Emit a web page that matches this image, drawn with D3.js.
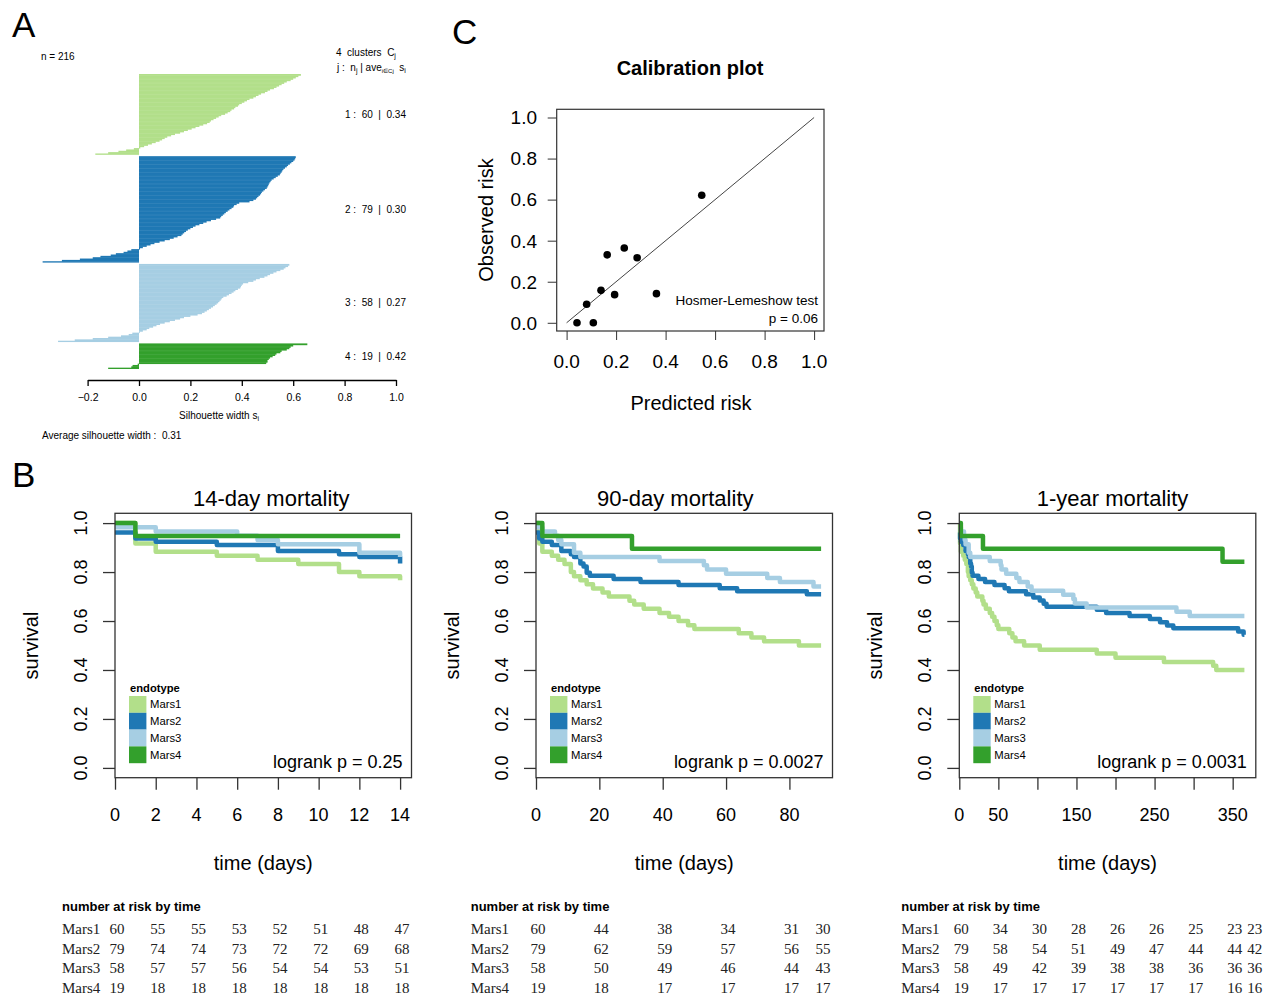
<!DOCTYPE html>
<html>
<head>
<meta charset="utf-8">
<script src="https://cdn.jsdelivr.net/npm/d3@7"></script>
<style>
body { margin: 0; background: #fff; }
text { font-family: "Liberation Sans", Arial, sans-serif; fill: #000; }
.serif { font-family: "Liberation Serif", "Times New Roman", serif; fill: #222; }
.pre { white-space: pre; }
</style>
</head>
<body>
<script>
// ---------- shared ----------
const endotypes = ['Mars1', 'Mars2', 'Mars3', 'Mars4'];
const endoColors = ['#b2df8a', '#1f78b4', '#a6cee3', '#33a02c'];

// ---------- panel A : silhouette widths, sorted inside each cluster ----------
const silC1 = [0.63, 0.62, 0.61, 0.60, 0.59, 0.575, 0.565, 0.555, 0.545, 0.535,
  0.525, 0.51, 0.50, 0.49, 0.475, 0.465, 0.455, 0.445, 0.43, 0.42,
  0.41, 0.40, 0.39, 0.385, 0.375, 0.37, 0.36, 0.355, 0.345, 0.335,
  0.32, 0.31, 0.30, 0.29, 0.28, 0.275, 0.265, 0.25, 0.235, 0.22,
  0.205, 0.19, 0.175, 0.16, 0.14, 0.125, 0.11, 0.10, 0.09, 0.08,
  0.065, 0.05, 0.035, 0.02, 0.005, -0.02, -0.05, -0.08, -0.12, -0.17];
const silC2 = [0.61, 0.608, 0.605, 0.60, 0.593, 0.587, 0.58, 0.575, 0.568, 0.562,
  0.558, 0.555, 0.551, 0.548, 0.54, 0.532, 0.524, 0.516, 0.512, 0.508,
  0.505, 0.503, 0.50, 0.497, 0.49, 0.484, 0.478, 0.475, 0.471, 0.465,
  0.46, 0.455, 0.445, 0.43, 0.39, 0.38, 0.37, 0.367, 0.36, 0.352,
  0.345, 0.338, 0.332, 0.326, 0.32, 0.316, 0.30, 0.28, 0.263, 0.25,
  0.235, 0.22, 0.21, 0.20, 0.19, 0.183, 0.176, 0.17, 0.165, 0.15,
  0.135, 0.12, 0.10, 0.08, 0.06, 0.045, 0.03, 0.015, 0.004, -0.03,
  -0.045, -0.06, -0.09, -0.11, -0.15, -0.18, -0.23, -0.30, -0.375];
const silC3 = [0.585, 0.58, 0.57, 0.563, 0.55, 0.535, 0.523, 0.51, 0.50, 0.488,
  0.47, 0.455, 0.445, 0.425, 0.405, 0.40, 0.397, 0.394, 0.385, 0.375,
  0.368, 0.36, 0.35, 0.341, 0.328, 0.322, 0.318, 0.313, 0.308, 0.302,
  0.295, 0.288, 0.28, 0.272, 0.264, 0.255, 0.245, 0.228, 0.20, 0.175,
  0.16, 0.14, 0.12, 0.10, 0.082, 0.068, 0.055, 0.04, 0.03, 0.015,
  0.003, -0.026, -0.04, -0.07, -0.12, -0.18, -0.25, -0.315];
const silC4 = [0.655, 0.60, 0.59, 0.585, 0.575, 0.555, 0.55, 0.535, 0.53, 0.52,
  0.51, 0.505, 0.50, 0.50, 0.495, -0.005, -0.025, -0.03, -0.12];
const silAverages = ['0.34', '0.30', '0.27', '0.42'];
const silOverall = '0.31';
const silTicks = [-0.2, 0, 0.2, 0.4, 0.6, 0.8, 1.0];
const silTickLabels = ['\u22120.2', '0.0', '0.2', '0.4', '0.6', '0.8', '1.0'];

// ---------- panel C : calibration ----------
const calPredicted = [0.042, 0.108, 0.081, 0.139, 0.194, 0.164, 0.233, 0.285, 0.363, 0.546];
const calObserved  = [0.0,   0.0,   0.09,  0.158, 0.137, 0.331, 0.364, 0.317, 0.142, 0.621];
const calTicks = [0, 0.2, 0.4, 0.6, 0.8, 1.0];
const calTickLabels = ['0.0', '0.2', '0.4', '0.6', '0.8', '1.0'];

// ---------- panel B : Kaplan-Meier steps [time, survival] ----------
const km14 = [
  [[0,1],[1,0.917],[2,0.883],[5,0.867],[7,0.85],[9,0.833],[11,0.80],[12,0.783],[14,0.767]],
  [[0,0.962],[1,0.937],[2,0.924],[5,0.911],[8,0.886],[11,0.873],[12,0.861],[14,0.835]],
  [[0,0.983],[2,0.966],[6,0.948],[7,0.931],[8,0.914],[12,0.879],[14,0.862]],
  [[0,1],[1,0.947]]
];
const km90 = [
  [[0,1],[1,0.917],[2,0.883],[5,0.867],[7,0.85],[9,0.833],[11,0.80],[12,0.783],[14,0.767],[16,0.75],
   [18,0.733],[21,0.717],[23,0.70],[29.5,0.683],[31,0.667],[34,0.65],[39,0.633],[42,0.617],[45,0.60],
   [48,0.583],[50,0.567],[64,0.55],[68,0.533],[72,0.517],[83,0.50]],
  [[0,0.962],[1,0.937],[2,0.924],[5,0.911],[8,0.886],[11,0.873],[12,0.861],[14,0.835],[15,0.823],
   [16,0.797],[17,0.785],[24.5,0.772],[33,0.759],[45,0.747],[58,0.734],[63.5,0.722],[85.5,0.709]],
  [[0,0.983],[2,0.966],[6,0.948],[7,0.931],[8,0.914],[12,0.879],[14,0.862],[39,0.845],[53,0.828],
   [54,0.81],[60,0.793],[73,0.776],[77,0.759],[87.6,0.741]],
  [[0,1],[2,0.947],[30.3,0.895]]
];
const km365 = [
  [[0,1],[1,0.917],[2,0.883],[5,0.867],[7,0.85],[9,0.833],[11,0.80],[12,0.783],[14,0.767],[16,0.75],
   [18,0.733],[21,0.717],[23,0.70],[29.5,0.683],[31,0.667],[34,0.65],[39,0.633],[42,0.617],[45,0.60],
   [48,0.583],[50,0.567],[64,0.55],[68,0.533],[72,0.517],[83,0.50],[103,0.483],[176,0.467],[200,0.45],
   [262,0.433],[325,0.417],[329,0.40]],
  [[0,0.962],[1,0.937],[2,0.924],[5,0.911],[8,0.886],[11,0.873],[12,0.861],[14,0.835],[15,0.823],
   [16,0.797],[17,0.785],[24.5,0.772],[33,0.759],[45,0.747],[58,0.734],[63.5,0.722],[85.5,0.709],
   [94.7,0.696],[103,0.684],[108,0.671],[111.7,0.658],[176,0.646],[188,0.633],[218,0.62],[244,0.608],
   [257,0.595],[266,0.582],[274,0.57],[357,0.557],[364,0.544]],
  [[0,0.983],[2,0.966],[6,0.948],[7,0.931],[8,0.914],[12,0.879],[14,0.862],[39,0.845],[53,0.828],
   [54,0.81],[60,0.793],[73,0.776],[77,0.759],[87.6,0.741],[92.5,0.724],[133,0.707],[146,0.69],
   [148,0.672],[163,0.655],[278,0.638],[295,0.621]],
  [[0,1],[2,0.947],[30.3,0.895],[337,0.842]]
];
const kmTitles = ['14-day mortality', '90-day mortality', '1-year mortality'];
const kmPvalues = ['0.25', '0.0027', '0.0031'];
const kmEnd = [14, 90, 365];
const kmTicks = [[0,2,4,6,8,10,12,14], [0,20,40,60,80], [0,50,100,150,200,250,300,350]];
const kmTickLabels = [['0','2','4','6','8','10','12','14'], ['0','20','40','60','80'],
  ['0','50','','150','','250','','350']];
const survTicks = [0, 0.2, 0.4, 0.6, 0.8, 1.0];
const survTickLabels = ['0.0', '0.2', '0.4', '0.6', '0.8', '1.0'];

// number at risk
const riskTimes = [[0,2,4,6,8,10,12,14], [0,20,40,60,80,90], [0,50,100,150,200,250,300,350,365]];
const risk14 = [[60,55,55,53,52,51,48,47], [79,74,74,73,72,72,69,68],
  [58,57,57,56,54,54,53,51], [19,18,18,18,18,18,18,18]];
const risk90 = [[60,44,38,34,31,30], [79,62,59,57,56,55], [58,50,49,46,44,43], [19,18,17,17,17,17]];
const risk365 = [[60,34,30,28,26,26,25,23,23], [79,58,54,51,49,47,44,44,42],
  [58,49,42,39,38,38,36,36,36], [19,17,17,17,17,17,17,16,16]];

// ---------- layout ----------
const W = 1272, H = 996;
const kmLefts = [115, 536, 959.3];
const kmWidth = 296.5, kmTop = 513.3, kmBottom = 777.7;
const kmTitleShift = [8, -9, 5];
const riskLefts = [62, 470.7, 901.3];

const svg = d3.select('body').append('svg').attr('width', W).attr('height', H);
svg.append('rect').attr('width', W).attr('height', H).attr('fill', '#fff');

// panel letters
[['A', 12, 37], ['B', 12, 487], ['C', 452, 44]].forEach(([t, x, y]) => {
  svg.append('text').attr('x', x).attr('y', y).attr('font-size', 35).text(t);
});

drawSilhouette();
drawCalibration();
[km14, km90, km365].forEach((data, p) => drawKM(p, data));
[risk14, risk90, risk365].forEach((rows, p) => drawRisk(p, rows));

function drawSilhouette() {
  const clusters = [silC1, silC2, silC3, silC4];
  const nTotal = d3.sum(clusters, c => c.length);
  const slots = nTotal + clusters.length - 1;
  const y = d3.scaleLinear().domain([0, slots]).range([74, 369]);
  const x = d3.scaleLinear().domain([-0.2, 1]).range([87.6, 396]);
  const g = svg.append('g');
  const fs = 10;

  let offset = 0;
  clusters.forEach((vals, c) => {
    const start = offset;
    g.append('g').selectAll('rect').data(vals).join('rect')
      .attr('x', d => x(Math.min(0, d)))
      .attr('width', d => Math.abs(x(d) - x(0)))
      .attr('y', (d, i) => y(start + i))
      .attr('height', (d, i) => i === vals.length - 1 ? y(1) - y(0) : y(1) - y(0) + 0.45)
      .attr('fill', endoColors[c]);
    g.append('text').attr('class', 'pre')
      .attr('x', 345).attr('y', y(start + vals.length / 2)).attr('dy', '0.35em')
      .attr('font-size', fs).attr('fill', '#222')
      .text(`${c + 1} :  ${vals.length}  |  ${silAverages[c]}`);
    offset += vals.length + 1;
  });

  g.append('text').attr('x', 41).attr('y', 60).attr('font-size', fs).attr('fill', '#222')
    .text(`n = ${nTotal}`);

  const h1 = g.append('text').attr('class', 'pre').attr('x', 336).attr('y', 56)
    .attr('font-size', fs).attr('fill', '#222');
  h1.append('tspan').text(`${clusters.length}  clusters  C`);
  h1.append('tspan').attr('font-size', 7).attr('dy', 2).text('j');

  const h2 = g.append('text').attr('class', 'pre').attr('x', 337).attr('y', 71)
    .attr('font-size', fs).attr('fill', '#222');
  h2.append('tspan').text('j :  n');
  h2.append('tspan').attr('font-size', 7).attr('dy', 2).text('j');
  h2.append('tspan').attr('dy', -2).text(' | ave');
  h2.append('tspan').attr('font-size', 6).attr('dy', 2).text('i\u2208Cj');
  h2.append('tspan').attr('dy', -2).text('  s');
  h2.append('tspan').attr('font-size', 7).attr('dy', 2).text('i');

  // axis
  const ax = g.append('g').attr('transform', 'translate(0,380)')
    .call(d3.axisBottom(x).tickValues(silTicks).tickSize(6).tickSizeOuter(0)
      .tickFormat((d, i) => silTickLabels[i]));
  ax.select('.domain').attr('stroke-width', 1.3);
  ax.selectAll('line').attr('stroke-width', 1.3);
  ax.selectAll('text').attr('y', 14).attr('font-size', 10.5)
    .attr('font-family', '"Liberation Sans", Arial, sans-serif').attr('fill', '#222');

  const xl = g.append('text').attr('x', 219).attr('y', 419).attr('text-anchor', 'middle')
    .attr('font-size', fs).attr('fill', '#222');
  xl.append('tspan').text('Silhouette width s');
  xl.append('tspan').attr('font-size', 7).attr('dy', 2).text('i');

  g.append('text').attr('class', 'pre').attr('x', 42).attr('y', 439)
    .attr('font-size', fs).attr('fill', '#222')
    .text(`Average silhouette width :  ${silOverall}`);
}

function drawCalibration() {
  const L = 556.7, R = 824, T = 109.3, B = 331;
  const x = d3.scaleLinear().domain([-0.04, 1.04]).range([L, R]);
  const y = d3.scaleLinear().domain([-0.04, 1.04]).range([B, T]);
  const g = svg.append('g');

  g.append('line')
    .attr('x1', x(0)).attr('y1', y(0)).attr('x2', x(1)).attr('y2', y(1))
    .attr('stroke', '#444').attr('stroke-width', 1);

  g.selectAll('circle').data(calPredicted).join('circle')
    .attr('cx', d => x(d)).attr('cy', (d, i) => y(calObserved[i]))
    .attr('r', 3.8).attr('fill', '#000');

  g.append('rect').attr('x', L).attr('y', T).attr('width', R - L).attr('height', B - T)
    .attr('fill', 'none').attr('stroke', '#333').attr('stroke-width', 1.2);

  g.append('g').attr('transform', `translate(0,${B})`).attr('color', '#333')
    .call(d3.axisBottom(x).tickValues(calTicks).tickSize(9).tickFormat(''))
    .call(a => a.select('.domain').remove());
  g.append('g').attr('transform', `translate(${L},0)`).attr('color', '#333')
    .call(d3.axisLeft(y).tickValues(calTicks).tickSize(9).tickFormat(''))
    .call(a => a.select('.domain').remove());

  g.selectAll('text.cx').data(calTicks).join('text').attr('class', 'cx')
    .attr('x', d => x(d)).attr('y', 368).attr('text-anchor', 'middle')
    .attr('font-size', 19).attr('fill', '#222').text((d, i) => calTickLabels[i]);
  g.selectAll('text.cy').data(calTicks).join('text').attr('class', 'cy')
    .attr('x', 537).attr('y', d => y(d)).attr('dy', '0.36em').attr('text-anchor', 'end')
    .attr('font-size', 19).attr('fill', '#222').text((d, i) => calTickLabels[i]);

  g.append('text').attr('x', 690).attr('y', 75).attr('text-anchor', 'middle')
    .attr('font-size', 20).attr('font-weight', 'bold').text('Calibration plot');
  g.append('text').attr('x', 691).attr('y', 410).attr('text-anchor', 'middle')
    .attr('font-size', 20).attr('fill', '#222').text('Predicted risk');
  g.append('text').attr('transform', `translate(493,220) rotate(-90)`).attr('text-anchor', 'middle')
    .attr('font-size', 20).attr('fill', '#222').text('Observed risk');

  g.append('text').attr('x', 818).attr('y', 305).attr('text-anchor', 'end')
    .attr('font-size', 13.5).attr('fill', '#222').text('Hosmer-Lemeshow test');
  g.append('text').attr('x', 818).attr('y', 323).attr('text-anchor', 'end')
    .attr('font-size', 13.5).attr('fill', '#222').text('p = 0.06');
}

function kmX(p) {
  return d3.scaleLinear().domain([0, kmEnd[p] * 1.04]).range([kmLefts[p], kmLefts[p] + kmWidth]);
}

function drawKM(p, data) {
  const L = kmLefts[p], R = L + kmWidth;
  const x = kmX(p);
  const y = d3.scaleLinear().domain([-0.04, 1.04]).range([kmBottom, kmTop]);
  const g = svg.append('g');

  const line = d3.line().x(d => x(d[0])).y(d => y(d[1])).curve(d3.curveStepAfter);
  data.forEach((series, k) => {
    const pts = series.concat([[kmEnd[p], series[series.length - 1][1]]]);
    g.append('path').attr('d', line(pts)).attr('fill', 'none')
      .attr('stroke', endoColors[k]).attr('stroke-width', 4.5)
      .attr('stroke-linejoin', 'round');
  });

  g.append('rect').attr('x', L).attr('y', kmTop).attr('width', kmWidth).attr('height', kmBottom - kmTop)
    .attr('fill', 'none').attr('stroke', '#333').attr('stroke-width', 1.3);

  g.append('g').attr('transform', `translate(0,${kmBottom})`).attr('color', '#333')
    .call(d3.axisBottom(x).tickValues(kmTicks[p]).tickSize(12).tickFormat(''))
    .call(a => a.select('.domain').remove())
    .call(a => a.selectAll('line').attr('stroke-width', 1.3));
  g.append('g').attr('transform', `translate(${L},0)`).attr('color', '#333')
    .call(d3.axisLeft(y).tickValues(survTicks).tickSize(12).tickFormat(''))
    .call(a => a.select('.domain').remove())
    .call(a => a.selectAll('line').attr('stroke-width', 1.3));

  g.selectAll('text.kx').data(kmTicks[p]).join('text').attr('class', 'kx')
    .attr('x', d => x(d)).attr('y', 821).attr('text-anchor', 'middle')
    .attr('font-size', 18).attr('fill', '#222').text((d, i) => kmTickLabels[p][i]);
  g.selectAll('text.ky').data(survTicks).join('text').attr('class', 'ky')
    .attr('transform', d => `translate(${L - 28},${y(d)}) rotate(-90)`).attr('text-anchor', 'middle')
    .attr('font-size', 18).attr('fill', '#222').text((d, i) => survTickLabels[i]);

  g.append('text').attr('x', (L + R) / 2 + kmTitleShift[p]).attr('y', 506).attr('text-anchor', 'middle')
    .attr('font-size', 22).attr('fill', '#111').text(kmTitles[p]);
  g.append('text').attr('x', (L + R) / 2).attr('y', 870).attr('text-anchor', 'middle')
    .attr('font-size', 20).attr('fill', '#222').text('time (days)');
  g.append('text').attr('transform', `translate(${L - 77},${(kmTop + kmBottom) / 2}) rotate(-90)`)
    .attr('text-anchor', 'middle').attr('font-size', 20).attr('fill', '#222').text('survival');

  // legend
  const lx = L + 14, ly = 696, bh = 16.8;
  g.append('text').attr('x', lx + 1).attr('y', 691.5).attr('font-size', 11.2)
    .attr('font-weight', 'bold').attr('fill', '#222').text('endotype');
  endotypes.forEach((name, k) => {
    g.append('rect').attr('x', lx).attr('y', ly + k * bh).attr('width', 17.4).attr('height', bh)
      .attr('fill', endoColors[k]);
    g.append('text').attr('x', lx + 21).attr('y', ly + k * bh + bh / 2).attr('dy', '0.36em')
      .attr('font-size', 11.3).attr('fill', '#333').text(name);
  });

  g.append('text').attr('x', R - 9).attr('y', 768).attr('text-anchor', 'end')
    .attr('font-size', 18).attr('fill', '#111').text(`logrank p = ${kmPvalues[p]}`);
}

function drawRisk(p, rows) {
  const x = kmX(p);
  const g = svg.append('g');
  g.append('text').attr('x', riskLefts[p]).attr('y', 910.5).attr('font-size', 13)
    .attr('font-weight', 'bold').attr('fill', '#111').text('number at risk by time');
  // column centres follow the time axis, nudged apart when two columns collide
  const cols = [];
  riskTimes[p].forEach((t, j) => {
    let cx = x(t) + 2;
    if (j > 0 && cx - cols[j - 1] < 20) cx = cols[j - 1] + 20;
    cols.push(cx);
  });
  rows.forEach((vals, k) => {
    const yy = 934 + k * 19.5;
    g.append('text').attr('class', 'serif').attr('x', riskLefts[p]).attr('y', yy)
      .attr('font-size', 15).text(endotypes[k]);
    g.selectAll(null).data(vals).join('text').attr('class', 'serif')
      .attr('x', (d, j) => cols[j]).attr('y', yy).attr('text-anchor', 'middle')
      .attr('font-size', 15).text(d => d);
  });
}
</script>
</body>
</html>
